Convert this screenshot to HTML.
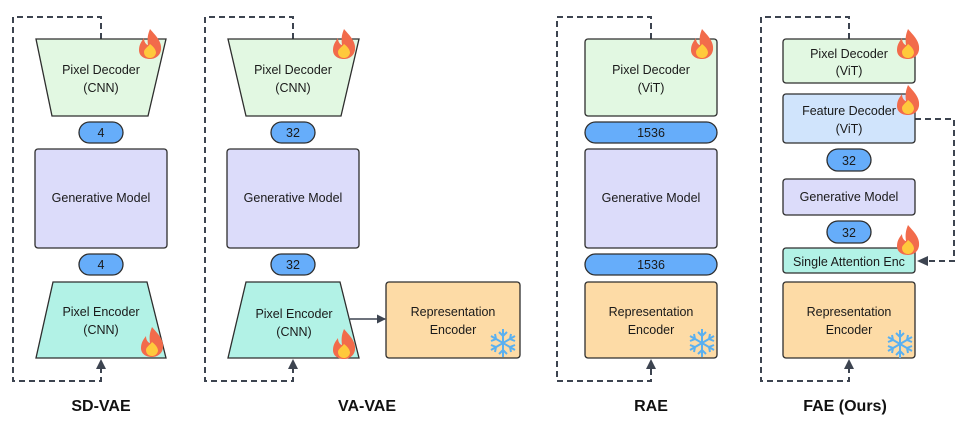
<!DOCTYPE html>
<html><head><style>
body{margin:0;background:#fff;width:966px;height:417px;overflow:hidden}
</style></head><body>
<svg width="966" height="417" viewBox="0 0 966 417" xmlns="http://www.w3.org/2000/svg" font-family="Liberation Sans, sans-serif">
<defs>
<marker id="ah" markerWidth="9" markerHeight="9" refX="8" refY="4.5" orient="auto" markerUnits="userSpaceOnUse"><path d="M0,0 L9,4.5 L0,9 Z" fill="#3d4450"/></marker>
<g id="fire"><path d="M0,-15 C7,-7 12,-2 11,6 C10,12 5,15 0,15 C-6,15 -11,12 -11,6 C-11,0 -8,-3 -6,-6 C-6,-1 -3,1 -2,1 C-3,-6 -2,-10 0,-15Z" fill="#f26b4b"/><path d="M0,0 C4,3 6,6 6,9 C5,13 2,14 0,14 C-3,14 -6,12 -6,8 C-6,5 -2,3 0,0Z" fill="#ffc93c"/></g>
<g id="snow" stroke="#5ab0f0" stroke-width="2" fill="none"><path d="M0,-14V14M-12,-7L12,7M-12,7L12,-7M-4,-11L0,-7L4,-11M-4,11L0,7L4,11M-12,-2L-7,-4L-8,-9M12,2L7,4L8,9M-12,2L-7,4L-8,9M12,-2L7,-4L8,-9"/></g>
</defs>
<g stroke="#3d4450" stroke-width="2" fill="none" stroke-dasharray="6,4">
<path d="M101,39V17H13V381H101V368"/>
<path d="M293,39V17H205V381H293V368"/>
<path d="M651,39V17H557V381H651V368"/>
<path d="M849,39V17H761V381H849V368"/>
<path d="M915,119H954V261H928"/>
</g>
<g fill="#3d4450"><path d="M96,369L101,359L106,369Z"/><path d="M288,369L293,359L298,369Z"/><path d="M646,369L651,359L656,369Z"/><path d="M844,369L849,359L854,369Z"/><path d="M928,256L917,261L928,266Z"/></g>
<line x1="350" y1="319" x2="385" y2="319" stroke="#3d4450" stroke-width="1.5" marker-end="url(#ah)"/>
<g stroke="#2e2e2e" stroke-width="1.3" fill="#222">
<path d="M36,39H166L148,116H52Z" fill="#e2f8e2"/>
<rect x="79" y="122" width="44" height="21" rx="10.5" fill="#66adfa"/>
<rect x="35" y="149" width="132" height="99" rx="3" fill="#dcdcfa"/>
<rect x="79" y="254" width="44" height="21" rx="10.5" fill="#66adfa"/>
<path d="M53,282H147L166,358H36Z" fill="#b2f2e6"/>
<path d="M228,39H359L341,116H246Z" fill="#e2f8e2"/>
<rect x="271" y="122" width="44" height="21" rx="10.5" fill="#66adfa"/>
<rect x="227" y="149" width="132" height="99" rx="3" fill="#dcdcfa"/>
<rect x="271" y="254" width="44" height="21" rx="10.5" fill="#66adfa"/>
<path d="M246,282H340L359,358H228Z" fill="#b2f2e6"/>
<rect x="386" y="282" width="134" height="76" rx="3" fill="#fddba6"/>
<rect x="585" y="39" width="132" height="77" rx="3" fill="#e2f8e2"/>
<rect x="585" y="122" width="132" height="21" rx="10.5" fill="#66adfa"/>
<rect x="585" y="149" width="132" height="99" rx="3" fill="#dcdcfa"/>
<rect x="585" y="254" width="132" height="21" rx="10.5" fill="#66adfa"/>
<rect x="585" y="282" width="132" height="76" rx="3" fill="#fddba6"/>
<rect x="783" y="39" width="132" height="44" rx="3" fill="#e2f8e2"/>
<rect x="783" y="94" width="132" height="49" rx="3" fill="#d0e4fc"/>
<rect x="827" y="149" width="44" height="22" rx="11" fill="#66adfa"/>
<rect x="783" y="179" width="132" height="36" rx="3" fill="#dcdcfa"/>
<rect x="827" y="221" width="44" height="22" rx="11" fill="#66adfa"/>
<rect x="783" y="248" width="132" height="25" rx="3" fill="#b2f2e6"/>
<rect x="783" y="282" width="132" height="76" rx="3" fill="#fddba6"/>
</g>
<g font-size="12.5" text-anchor="middle" fill="#1a1a1a">
<text x="101" y="74">Pixel Decoder</text><text x="101" y="92">(CNN)</text>
<text x="101" y="137">4</text><text x="101" y="202">Generative Model</text><text x="101" y="269">4</text>
<text x="101" y="316">Pixel Encoder</text><text x="101" y="334">(CNN)</text>
<text x="293" y="74">Pixel Decoder</text><text x="293" y="92">(CNN)</text>
<text x="293" y="137">32</text><text x="293" y="202">Generative Model</text><text x="293" y="269">32</text>
<text x="294" y="318">Pixel Encoder</text><text x="294" y="336">(CNN)</text>
<text x="453" y="316">Representation</text><text x="453" y="334">Encoder</text>
<text x="651" y="74">Pixel Decoder</text><text x="651" y="92">(ViT)</text>
<text x="651" y="137">1536</text><text x="651" y="202">Generative Model</text><text x="651" y="269">1536</text>
<text x="651" y="316">Representation</text><text x="651" y="334">Encoder</text>
<text x="849" y="58">Pixel Decoder</text><text x="849" y="75">(ViT)</text>
<text x="849" y="115">Feature Decoder</text><text x="849" y="133">(ViT)</text>
<text x="849" y="165">32</text><text x="849" y="201">Generative Model</text><text x="849" y="237">32</text>
<text x="849" y="266">Single Attention Enc</text>
<text x="849" y="316">Representation</text><text x="849" y="334">Encoder</text>
</g>
<g font-size="16" font-weight="bold" text-anchor="middle" fill="#111">
<text x="101" y="411">SD-VAE</text><text x="367" y="411">VA-VAE</text><text x="651" y="411">RAE</text><text x="845" y="411">FAE (Ours)</text>
</g>
<use href="#fire" x="150" y="44"/><use href="#fire" x="152" y="342"/>
<use href="#fire" x="344" y="44"/><use href="#fire" x="344" y="344"/>
<use href="#fire" x="702" y="44"/><use href="#fire" x="908" y="44"/><use href="#fire" x="908" y="100"/><use href="#fire" x="908" y="240"/>
<use href="#snow" x="503" y="343"/><use href="#snow" x="702" y="343"/><use href="#snow" x="900" y="344"/>
</svg>
</body></html>
